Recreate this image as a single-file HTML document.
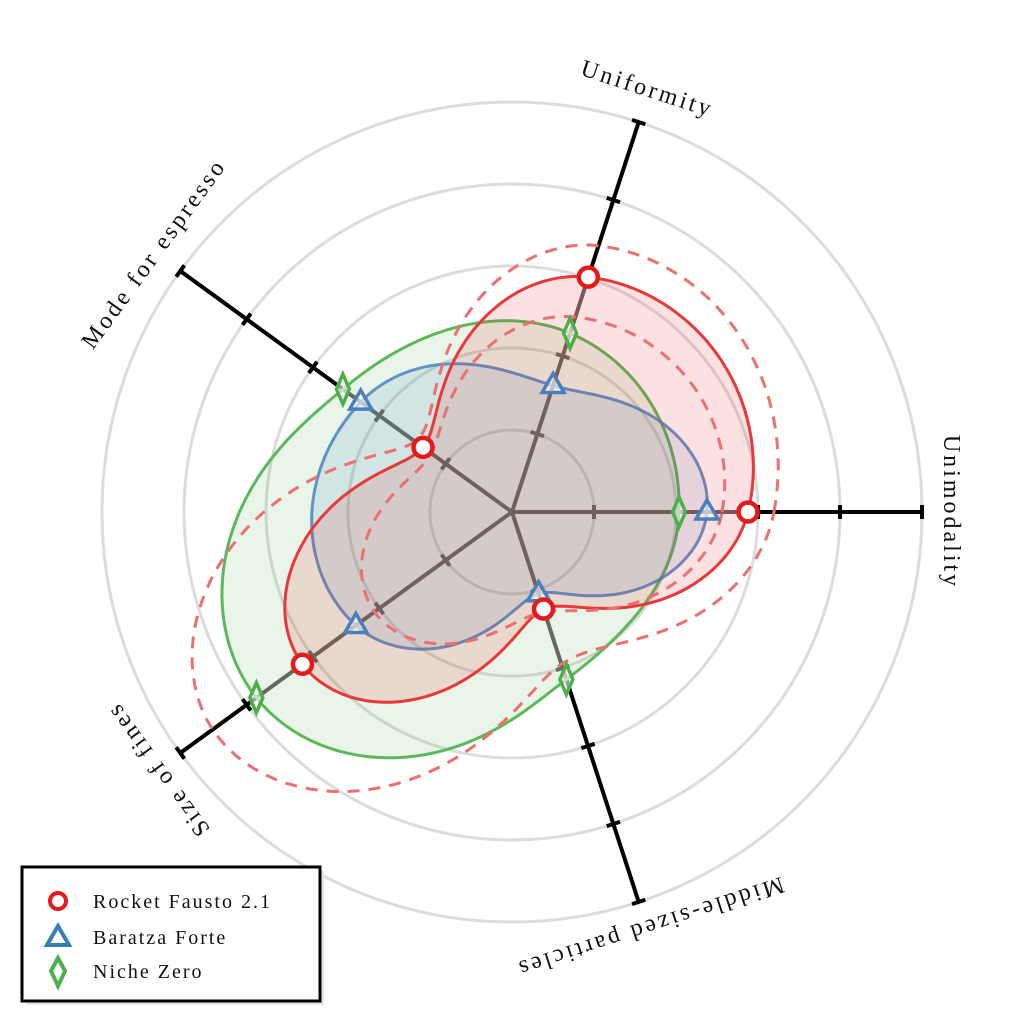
<!DOCTYPE html>
<html><head><meta charset="utf-8"><style>
html,body{margin:0;padding:0;background:#fff;}
svg{display:block;}
text{font-family:"Liberation Serif",serif;fill:#111;}
</style></head><body>
<svg id="s" width="1024" height="1024" viewBox="0 0 1024 1024" xmlns="http://www.w3.org/2000/svg">
<g fill="none" stroke="#dcdcdc" stroke-width="3">
<circle cx="512" cy="512" r="82"/><circle cx="512" cy="512" r="164"/><circle cx="512" cy="512" r="246"/><circle cx="512" cy="512" r="328"/><circle cx="512" cy="512" r="410"/>
</g>
<g id="axes"></g>
<g id="shapes"></g>
<g id="marks"></g>
<g font-size="24" letter-spacing="3">
<text x="0" y="0" text-anchor="middle" transform="translate(645,96) rotate(18)">Uniformity</text>
<text x="0" y="0" text-anchor="middle" transform="translate(944,512) rotate(90)">Unimodality</text>
<text x="0" y="0" text-anchor="middle" transform="translate(160,258) rotate(-54)">Mode for espresso</text>
<text x="0" y="0" text-anchor="middle" transform="translate(164,765) rotate(-126)">Size of fines</text>
<text x="0" y="0" text-anchor="middle" transform="translate(648,920) rotate(162)">Middle-sized particles</text>
</g>
<rect x="26" y="871" width="298" height="134" fill="#e6e6e6"/>
<rect x="22" y="867" width="298" height="134" fill="#fff" stroke="#000" stroke-width="3"/>
<circle cx="58" cy="901" r="8" fill="#fff" stroke="#e41a1c" stroke-width="4"/>
<polygon points="58,926 69,945 47,945" fill="#fff" stroke="#377eb8" stroke-width="4" stroke-linejoin="miter"/>
<polygon points="58,958 65,971 58,986 51,971" fill="#fff" stroke="#4daf4a" stroke-width="4"/>
<g font-size="20" letter-spacing="2">
<text x="93" y="908">Rocket Fausto 2.1</text>
<text x="93" y="944">Baratza Forte</text>
<text x="93" y="978">Niche Zero</text>
</g>
</svg>
<script>
var cx=512,cy=512,NS="http://www.w3.org/2000/svg";
var ang=[0,72,144,216,288];
function P(r,deg){var a=deg*Math.PI/180;return [cx+r*Math.cos(a),cy-r*Math.sin(a)];}
function el(tag,attrs,parent){var e=document.createElementNS(NS,tag);for(var k in attrs)e.setAttribute(k,attrs[k]);document.getElementById(parent).appendChild(e);return e;}
var data={
 red:[236,247,110,259,102],
 blue:[195,133,187,193,86],
 green:[167,188,209,316,176]
};
var outer=[262,280,120,370,160], inner=[210,205,100,170,105];
var maxr=[236,247,209,316,176];
for(var i=0;i<5;i++){
 var a=ang[i],e=P(410,a),m=P(maxr[i],a);
 el("line",{x1:cx,y1:cy,x2:m[0],y2:m[1],stroke:"#6a6060","stroke-width":4},"axes");
 el("line",{x1:m[0],y1:m[1],x2:e[0],y2:e[1],stroke:"#000","stroke-width":4},"axes");
 [82,164,246,328,410].forEach(function(r){
  var p=P(r,a),rad=a*Math.PI/180,dx=Math.sin(rad)*7,dy=Math.cos(rad)*7;
  el("line",{x1:p[0]-dx,y1:p[1]-dy,x2:p[0]+dx,y2:p[1]+dy,stroke:r<=maxr[i]?"#6a6060":"#000","stroke-width":4},"axes");
 });
}
function curve(rs){
 var pts=[];
 for(var i=0;i<5;i++){
  var p0=rs[(i+4)%5],p1=rs[i],p2=rs[(i+1)%5],p3=rs[(i+2)%5];
  for(var k=0;k<40;k++){
   var t=k/40;
   var r=0.5*(2*p1+(p2-p0)*t+(2*p0-5*p1+4*p2-p3)*t*t+(-p0+3*p1-3*p2+p3)*t*t*t);
   var p=P(r,ang[i]+72*t);pts.push(p[0].toFixed(1)+","+p[1].toFixed(1));
  }
 }
 return "M"+pts.join("L")+"Z";
}
el("path",{d:curve(data.green),fill:"rgba(77,175,74,0.13)",stroke:"#5cb85a","stroke-width":3},"shapes");
el("path",{d:curve(data.blue),fill:"rgba(55,126,184,0.13)",stroke:"#4a84c0","stroke-width":3,"stroke-opacity":0.85},"shapes");
el("path",{d:curve(data.red),fill:"rgba(228,26,28,0.13)",stroke:"#e8383a","stroke-width":3},"shapes");
el("path",{d:curve(outer),fill:"none",stroke:"#ec7070","stroke-width":3,"stroke-dasharray":"12,9"},"shapes");
el("path",{d:curve(inner),fill:"none",stroke:"#ec7070","stroke-width":3,"stroke-dasharray":"12,9"},"shapes");
for(var i=0;i<5;i++){
 var g=P(data.green[i],ang[i]);
 el("polygon",{points:[g[0],g[1]-15,g[0]+6.5,g[1],g[0],g[1]+15,g[0]-6.5,g[1]].join(","),fill:"#fff","fill-opacity":0.6,stroke:"#4daf4a","stroke-width":3.5},"marks");
 var b=P(data.blue[i],ang[i]);
 el("polygon",{points:[b[0],b[1]-12,b[0]+11,b[1]+7,b[0]-11,b[1]+7].join(","),fill:"#fff","fill-opacity":0.6,stroke:"#4a7fbf","stroke-width":3.5},"marks");
 var r=P(data.red[i],ang[i]);
 el("circle",{cx:r[0],cy:r[1],r:9.5,fill:"#fff",stroke:"#e41a1c","stroke-width":4.5},"marks");
}
</script>
</body></html>
